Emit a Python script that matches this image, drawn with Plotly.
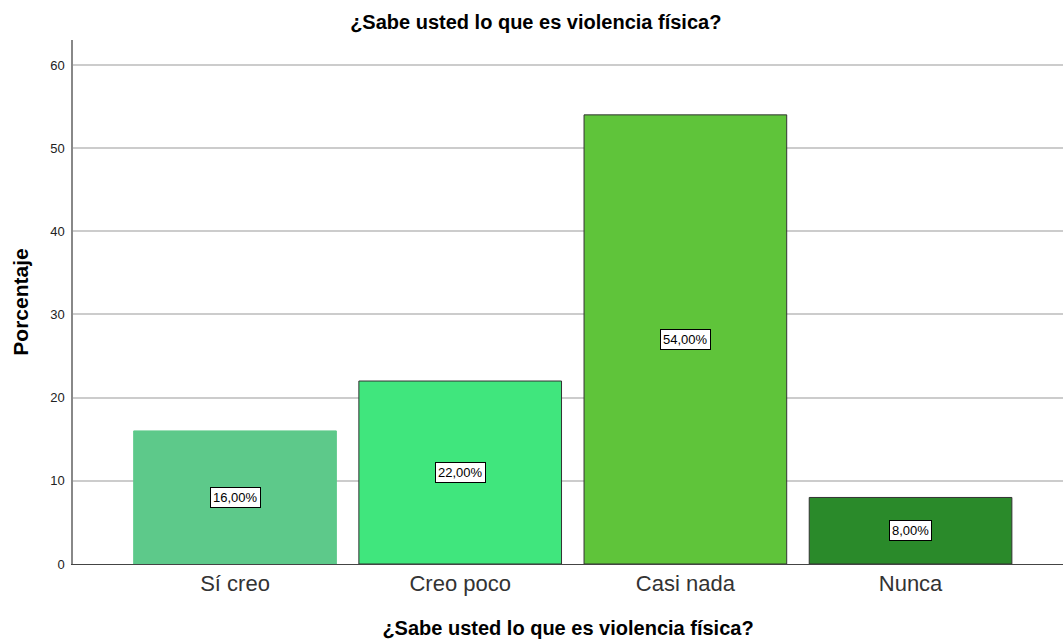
import plotly.graph_objects as go

categories = ["Sí creo", "Creo poco", "Casi nada", "Nunca"]
values = [16, 22, 54, 8]
labels = ["16,00%", "22,00%", "54,00%", "8,00%"]
colors = ["#5DC98A", "#40E67D", "#5FC43A", "#2A8A2A"]
edge_colors = ["#5DC98A", "#333333", "#333333", "#333333"]
y_ticks = [0, 10, 20, 30, 40, 50, 60]

fig = go.Figure()
fig.add_trace(go.Bar(
    x=categories, y=values, width=0.9,
    marker=dict(color=colors, line=dict(color=edge_colors, width=1)),
    hoverinfo="skip", showlegend=False,
))

for c, v, t in zip(categories, values, labels):
    fig.add_annotation(x=c, y=v / 2, text=t, showarrow=False,
                       font=dict(family="Liberation Sans, Arial", size=13, color="black"),
                       bgcolor="white", bordercolor="black", borderwidth=1, borderpad=2)

fig.update_layout(
    width=1063, height=640, autosize=False,
    margin=dict(l=73, r=0, t=40, b=76),
    paper_bgcolor="white", plot_bgcolor="white",
    font=dict(family="Liberation Sans, Arial", color="black"),
    title=dict(text="<b>¿Sabe usted lo que es violencia física?</b>",
               x=0.504, xanchor="center", y=0.966, yanchor="middle",
               font=dict(size=20, color="black")),
    xaxis=dict(range=[-0.7195, 3.677], showgrid=False, showline=True,
               linecolor="#444444", linewidth=1, ticks="",
               tickfont=dict(size=22, color="#333333"),
               title=dict(text="<b>¿Sabe usted lo que es violencia física?</b>",
                          font=dict(size=20, color="black"), standoff=25)),
    yaxis=dict(range=[0, 63], tickvals=y_ticks, showgrid=True,
               gridcolor="#CCCCCC", gridwidth=1.5, showline=True,
               linecolor="#888888", linewidth=1.5, ticks="", zeroline=False,
               tickfont=dict(size=13, color="#222222"), ticklabelstandoff=4,
               title=dict(text="<b>Porcentaje</b>", font=dict(size=21, color="black"),
                          standoff=16)),
    bargap=0.1,
)

post = """
document.body.style.margin = '0';
document.body.style.overflow = 'hidden';
var gd = document.getElementById('{plot_id}');
gd.style.width = '1063px';
gd.style.height = '640px';
Plotly.relayout(gd, {width: 1063, height: 640});
"""

fig.write_html("out.html", post_script=post,
               config={"responsive": False, "displayModeBar": False})
